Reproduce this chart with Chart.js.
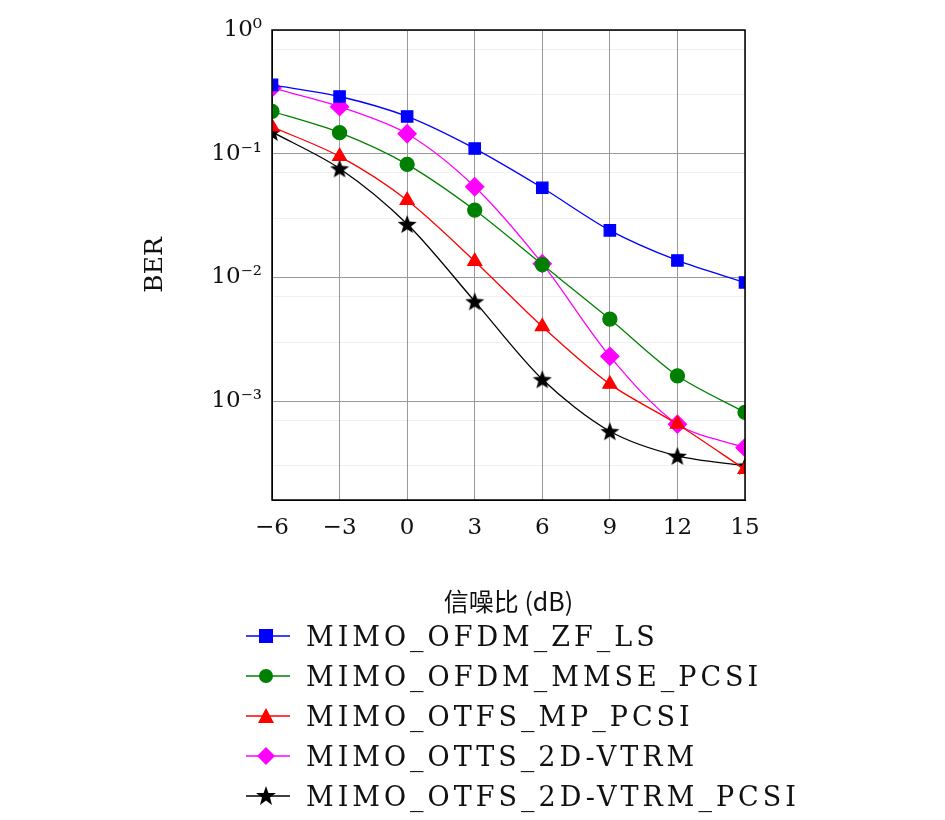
<!DOCTYPE html>
<html><head><meta charset="utf-8">
<script src="https://cdn.jsdelivr.net/npm/chart.js@4"></script>
<style>
body{margin:0;background:#fff;width:945px;height:820px;overflow:hidden;position:relative;font-family:"DejaVu Serif","Liberation Serif",serif}
#wrap{position:absolute;left:0;top:0;width:945px;height:620px}
#legend{position:absolute;left:246px;top:616px;font-size:27px;letter-spacing:4px;color:#111}
.row{height:40px;display:flex;align-items:center}
.row svg{margin-right:16px}
</style></head><body>
<div id="wrap"><canvas id="c"></canvas></div>
<div id="legend"></div>
<script>
const snr = [-6, -3, 0, 3, 6, 9, 12, 15];
const zfLs = [0.36, 0.29, 0.20, 0.11, 0.053, 0.024, 0.0137, 0.0091];
const mmsePcsi = [0.22, 0.148, 0.082, 0.035, 0.0127, 0.0046, 0.0016, 0.00081];
const otfsMp = [0.165, 0.095, 0.042, 0.0135, 0.004, 0.00137, 0.00065, 0.00028];
const otts2d = [0.34, 0.24, 0.145, 0.054, 0.0129, 0.0023, 0.00065, 0.00042];
const otfs2dPcsi = [0.15, 0.076, 0.027, 0.0064, 0.0015, 0.00057, 0.00036, 0.0003];
const names = ['MIMO_OFDM_ZF_LS','MIMO_OFDM_MMSE_PCSI','MIMO_OTFS_MP_PCSI','MIMO_OTTS_2D-VTRM','MIMO_OTFS_2D-VTRM_PCSI'];
const colors = ['#0000ff','#008000','#ff0000','#ff00ff','#000000'];

function starImg(size){
  const c = document.createElement('canvas'); c.width = c.height = size;
  const g = c.getContext('2d'); const r = size/2, ri = r*0.42;
  g.beginPath();
  for(let i=0;i<10;i++){const a=-Math.PI/2+i*Math.PI/5, rr=i%2?ri:r; g.lineTo(r+rr*Math.cos(a), r+rr*Math.sin(a)+1);}
  g.closePath(); g.fillStyle='#000'; g.fill(); return c;
}
const star = starImg(20);
const styles = ['rect','circle','triangle','rectRot',star];
const radii = [8,7,8,9,10];
const series = [zfLs, mmsePcsi, otfsMp, otts2d, otfs2dPcsi];

const frame = {id:'frame', afterDraw(ch){
  const a=ch.chartArea,g=ch.ctx;g.save();g.strokeStyle='#000';g.lineWidth=1.5;
  g.strokeRect(a.left,a.top,a.right-a.left,a.bottom-a.top);
  g.translate(155,(a.top+a.bottom)/2);g.rotate(-Math.PI/2);
  g.fillStyle='#111';g.font='25px "DejaVu Serif"';g.textAlign='center';g.textBaseline='middle';
  g.fillText('BER',0,0);g.restore();}};
const sup = {'-':'⁻','0':'⁰','1':'¹','2':'²','3':'³','4':'⁴'};
const isDecade = v => Math.abs(Math.log10(v) - Math.round(Math.log10(v))) < 1e-6;

new Chart(document.getElementById('c'), {
  type: 'line',
  data: {
    labels: snr,
    datasets: series.map((d,i) => ({
      label: names[i], data: d.map((y,j)=>({x:snr[j],y})),
      borderColor: colors[i], backgroundColor: colors[i], borderWidth: 1.3,
      pointStyle: styles[i], pointRadius: radii[i], tension: 0.3
    }))
  },
  options: {
    responsive: true, maintainAspectRatio: false, animation: false,
    layout: {padding: {top: 30, right: 200, left: 0, bottom: 0}},
    plugins: {legend: {display: false}, tooltip: {enabled: false}},
    scales: {
      x: {
        type: 'linear', min: -6, max: 15,
        afterBuildTicks: s => { s.ticks = snr.map(v => ({value: v})); },
        afterFit: s => { s.height = 120; },
        ticks: {color: '#111', font: {family: 'DejaVu Serif', size: 23}, padding: 14, callback: v => v < 0 ? '−' + Math.abs(v) : v},
        grid: {color: '#999', drawTicks: false},
        border: {color: '#000'},
        title: {display: true, text: '信噪比 (dB)', color: '#111', font: {family: 'Noto Sans CJK SC, DejaVu Serif', size: 25}, padding: {top: 4}}
      },
      y: {
        type: 'logarithmic', min: Math.pow(10, -3.8), max: 1,
        afterFit: s => { s.width = 272; },
        ticks: {color: '#111', font: {family: 'DejaVu Serif', size: 23}, padding: 10,
          callback: v => isDecade(v) ? '10' + String(Math.round(Math.log10(v))).split('').map(c => sup[c]).join('') : ''},
        grid: {color: c => c.tick && isDecade(c.tick.value) ? '#999' : 'rgba(0,0,0,0.06)', drawTicks: false},
        border: {color: '#000'}
      }
    }
  },
  plugins: [frame]
});

const lg = document.getElementById('legend');
const shapes = [
  '<rect x="13" y="3" width="14" height="14" fill="#0000ff"/>',
  '<circle cx="20" cy="10" r="7" fill="#008000"/>',
  '<polygon points="20,2 28,17 12,17" fill="#ff0000"/>',
  '<polygon points="20,1 29,10 20,19 11,10" fill="#ff00ff"/>',
  '<polygon points="20,0 22.4,7 30,7 24,11.5 26,19 20,14.5 14,19 16,11.5 10,7 17.6,7" fill="#000"/>'
];
names.forEach((n,i) => {
  const r = document.createElement('div'); r.className = 'row';
  r.innerHTML = '<svg width="44" height="20"><line x1="0" y1="10" x2="44" y2="10" stroke="'+colors[i]+'" stroke-width="1.5"/>' + shapes[i] + '</svg><span>' + n + '</span>';
  lg.appendChild(r);
});
</script>
</body></html>
